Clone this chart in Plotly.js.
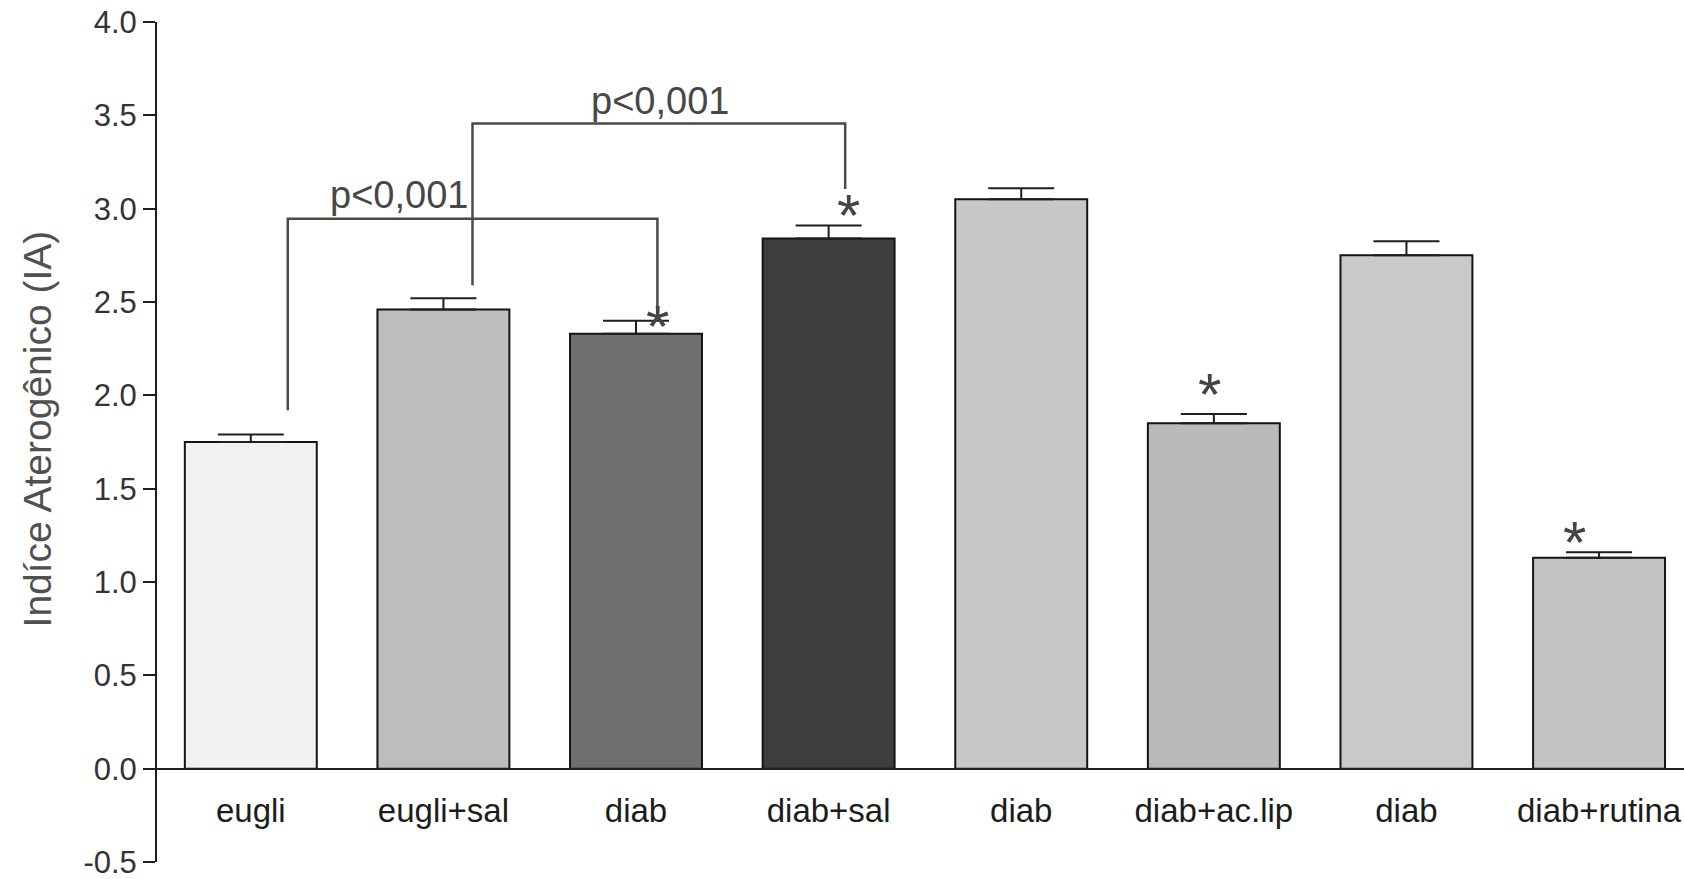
<!DOCTYPE html>
<html>
<head>
<meta charset="utf-8">
<script src="https://cdn.plot.ly/plotly-3.0.1.min.js"></script>
<style>
  html, body { margin: 0; padding: 0; background: #ffffff; }
  #chart { width: 1684px; height: 879px; }
</style>
</head>
<body>
<div id="chart"></div>
<script>
// Group labels along the x axis (the "diab" control appears once per treatment pair)
const categories = ['eugli', 'eugli+sal', 'diab', 'diab+sal', 'diab', 'diab+ac.lip', 'diab', 'diab+rutina'];
// Mean atherogenic index per group
const meanIA = [1.75, 2.46, 2.33, 2.84, 3.05, 1.85, 2.75, 1.13];
// Standard error of the mean (drawn upward only)
const semIA = [0.04, 0.06, 0.07, 0.07, 0.06, 0.05, 0.075, 0.03];
// Groups flagged as significantly different from their control
const starGroups = [2, 3, 5, 7];
// Pairwise comparisons shown with brackets
const compFrom = [0, 1];
const compTo = [2, 3];
const compLabel = ['p<0,001', 'p<0,001'];
// y-axis tick values
const yTicks = [-0.5, 0.0, 0.5, 1.0, 1.5, 2.0, 2.5, 3.0, 3.5, 4.0];

const barFill = ['#f1f1f1', '#bdbdbd', '#6f6f6f', '#3d3d3d', '#c8c8c8', '#bababa', '#c9c9c9', '#c3c3c3'];
const xIdx = categories.map((_, i) => i);

const bars = {
  type: 'bar',
  x: xIdx,
  y: meanIA,
  width: 0.685,
  marker: { color: barFill, line: { color: '#141414', width: 2 } },
  error_y: {
    type: 'data', symmetric: false,
    array: semIA, arrayminus: semIA.map(() => 0),
    color: '#1e1e1e', thickness: 2, width: 33
  },
  hoverinfo: 'x+y',
  showlegend: false
};

// Bracket geometry: [left x, left foot, top, right x, right foot]
const bracketGeom = [
  [0.192, 1.92, 2.946, 2.111, 2.44],
  [1.151, 2.59, 3.456, 3.086, 3.106]
];
const shapes = [];
const annotations = [];
const bracketLine = { color: '#4a4a4a', width: 2.5 };
bracketGeom.forEach((g, k) => {
  shapes.push({ type: 'path', xref: 'x', yref: 'y',
    path: `M ${g[0]} ${g[1]} L ${g[0]} ${g[2]} L ${g[3]} ${g[2]} L ${g[3]} ${g[4]}`,
    line: bracketLine });
});
// Label positions for the two comparison brackets
const labelPos = [[0.772, 3.073], [2.127, 3.577]];
compLabel.forEach((t, k) => {
  annotations.push({ x: labelPos[k][0], y: labelPos[k][1], xref: 'x', yref: 'y',
    text: t, showarrow: false, xanchor: 'center', yanchor: 'middle',
    font: { family: 'Liberation Sans, Arial, sans-serif', size: 38, color: '#474747' } });
});

// Significance stars above the flagged bars
const starPos = { 2: [2.109, 2.424], 3: [3.104, 3.015], 5: [4.98, 2.057], 7: [6.873, 1.265] };
starGroups.forEach(i => {
  annotations.push({ x: starPos[i][0], y: starPos[i][1], xref: 'x', yref: 'y',
    text: '*', showarrow: false, xanchor: 'center', yanchor: 'middle', yshift: -10,
    font: { family: 'Liberation Sans, Arial, sans-serif', size: 60, color: '#444444' } });
});

// Rotated y-axis title, placed slightly above the vertical middle of the axis
annotations.push({ xref: 'paper', yref: 'paper', x: -0.078, y: 0.516,
  xanchor: 'center', yanchor: 'middle', textangle: -90, showarrow: false,
  text: 'Indíce Aterogênico (IA)',
  font: { family: 'Liberation Sans, Arial, sans-serif', size: 39, color: '#505050' } });

const layout = {
  width: 1684,
  height: 879,
  margin: { l: 157, r: 0, t: 22, b: 17, pad: 0 },
  paper_bgcolor: '#ffffff',
  plot_bgcolor: '#ffffff',
  xaxis: {
    range: [-0.487, 7.441],
    anchor: 'free', position: 0.5 / 4.5,
    tickmode: 'array', tickvals: xIdx, ticktext: categories,
    ticks: '', showgrid: false, zeroline: false,
    showline: true, linecolor: '#1e1e1e', linewidth: 2,
    ticklabelstandoff: 13,
    tickfont: { family: 'Liberation Sans, Arial, sans-serif', size: 33, color: '#1c1c1c' },
    fixedrange: true
  },
  yaxis: {
    range: [-0.5, 4.0],
    tickmode: 'array', tickvals: yTicks, ticktext: yTicks.map(v => v.toFixed(1)),
    ticks: 'outside', ticklen: 12, tickwidth: 2, tickcolor: '#1e1e1e',
    showline: true, linecolor: '#1e1e1e', linewidth: 2,
    showgrid: false, zeroline: false,
    ticklabeloverflow: 'allow',
    tickfont: { family: 'Liberation Sans, Arial, sans-serif', size: 31, color: '#333333' },
    fixedrange: true
  },
  shapes: shapes,
  annotations: annotations,
  bargap: 0.3
};

Plotly.newPlot('chart', [bars], layout, { displayModeBar: false, staticPlot: true });
</script>
</body>
</html>
